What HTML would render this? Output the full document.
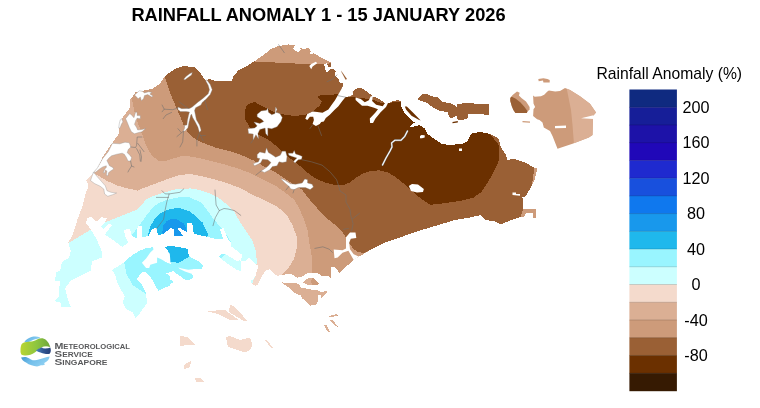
<!DOCTYPE html>
<html><head><meta charset="utf-8"><title>Rainfall Anomaly</title>
<style>
html,body{margin:0;padding:0;background:#fff;}
body{width:760px;height:408px;overflow:hidden;position:relative;font-family:"Liberation Sans",sans-serif;}
svg{position:absolute;left:0;top:0;will-change:transform;}
text{font-family:"Liberation Sans",sans-serif;}
</style></head><body>
<svg width="760" height="408" viewBox="0 0 760 408">
<rect width="760" height="408" fill="#fff"/>

<defs><clipPath id="land">
<polygon points="60.4,270.0 62.0,262.0 69.0,257.6 70.7,251.0 68.3,242.5 72.7,235.0 77.5,219.4 82.3,206.7 85.5,194.0 88.7,186.0 86.3,180.4 92.5,173.8 97.5,167.5 102.5,157.5 110.0,146.0 118.8,133.8 120.0,122.5 122.5,117.5 130.0,107.5 130.0,100.0 133.8,95.0 135.0,92.5 152.5,88.8 160.0,83.8 165.0,76.0 175.0,68.8 183.8,66.0 195.0,67.5 201.0,73.8 205.0,80.0 210.0,79.0 215.0,81.0 231.7,81.0 233.3,76.2 238.9,69.9 246.9,65.9 254.8,61.1 262.8,55.5 270.8,49.2 278.7,46.0 288.3,44.4 294.7,45.2 293.1,49.2 297.9,52.3 301.1,50.0 298.7,47.6 304.2,49.2 309.0,47.6 310.6,51.5 309.8,54.7 313.8,53.1 320.2,57.1 329.7,61.9 331.1,62.5 331.1,66.8 328.4,66.8 326.5,63.3 324.3,64.6 325.1,68.8 327.1,72.7 329.8,69.4 333.7,68.9 335.7,71.1 335.1,75.7 338.4,78.4 339.7,82.3 343.0,83.7 342.3,88.3 339.7,94.0 337.7,95.6 345.6,96.9 350.3,96.2 352.9,94.3 352.2,91.6 356.9,88.3 362.2,88.3 371.4,94.9 372.5,97.0 376.7,97.6 382.7,101.5 385.0,104.0 389.0,103.2 392.9,101.2 398.2,99.9 400.9,101.2 401.5,107.2 404.8,113.8 410.8,119.8 414.8,122.4 410.8,125.7 409.5,127.7 419.4,125.0 424.7,128.4 427.3,133.7 435.3,139.6 441.9,144.0 450.0,145.0 462.5,143.8 467.5,141.0 471.0,133.8 480.0,132.0 490.0,133.8 498.8,138.8 501.0,147.5 506.0,155.0 507.5,160.0 513.8,158.8 525.0,162.5 533.8,167.5 537.5,168.8 534.5,180.0 530.0,188.8 526.0,196.0 522.5,197.5 523.0,208.8 536.0,209.5 536.0,217.5 533.0,217.5 533.0,212.5 526.0,213.0 523.8,217.5 520.0,217.0 511.0,220.0 501.0,224.5 493.8,221.0 485.0,220.0 481.0,215.0 470.0,217.5 455.0,220.0 440.0,224.5 430.0,227.5 415.0,232.0 400.0,237.5 385.0,242.5 372.0,248.8 365.6,252.7 359.2,256.7 353.7,259.9 339.3,272.7 335.0,267.2 330.6,267.2 330.6,277.7 328.4,276.0 321.8,276.0 317.4,272.7 308.6,272.7 300.9,277.1 297.0,277.7 294.8,276.0 290.9,273.8 285.4,273.8 283.8,275.5 280.5,274.9 277.7,276.6 270.0,269.4 266.0,270.0 261.6,276.7 256.0,286.2 250.4,282.2 255.2,276.7 258.4,266.3 248.8,257.5 245.6,261.5 240.8,260.7 242.4,255.1 231.3,246.4 231.3,242.5 228.0,239.3 223.3,228.0 220.0,229.0 223.3,239.3 217.0,239.3 207.4,236.9 193.8,233.7 192.2,222.5 187.5,223.3 186.7,232.0 178.7,227.3 177.9,229.0 183.5,236.0 173.9,236.0 173.9,229.0 170.7,228.0 163.5,233.7 158.0,235.3 156.4,228.0 152.0,229.0 148.8,236.0 142.4,237.0 141.6,225.7 137.6,226.5 136.8,238.5 132.0,236.0 129.7,229.0 124.0,229.7 125.0,236.0 128.0,242.5 122.5,247.0 113.0,240.0 105.0,234.5 112.0,225.0 109.8,223.3 103.4,229.0 101.0,226.5 105.0,222.5 106.6,218.5 101.8,217.0 96.2,221.7 91.4,217.0 87.5,217.8 85.9,223.3 90.6,229.0 96.2,238.5 101.8,251.2 101.8,257.4 92.2,261.4 90.6,271.0 83.5,274.0 70.7,280.5 65.1,288.5 67.5,298.0 70.7,306.8 61.2,306.8 61.2,302.8 54.8,301.2 58.8,297.2 58.8,290.0 60.4,281.3 54.8,280.5 56.4,272.5" shape-rendering="crispEdges"/>
<polygon points="112.2,270.0 124.1,262.2 131.3,255.8 139.8,250.5 147.1,247.9 152.9,247.4 160.0,250.0 166.0,258.0 164.7,264.6 164.7,272.5 170.0,276.0 170.0,285.3 158.4,290.9 156.0,286.9 152.0,278.9 145.6,271.7 141.6,272.5 136.9,278.9 142.4,285.3 145.6,291.7 147.2,302.8 139.2,314.0 135.3,318.0 132.9,312.4 126.5,309.2 122.5,302.8 124.9,296.4 120.1,288.5 117.7,283.7 115.3,275.7" shape-rendering="crispEdges"/>
<polygon points="150.0,248.0 152.4,247.2 156.4,252.8 159.6,255.1 162.7,260.7 170.7,263.9 167.5,249.6 165.1,247.2 169.9,245.6 184.3,248.0 187.5,248.8 189.0,255.9 191.4,257.5 197.8,260.7 203.4,265.5 201.8,268.7 193.0,269.5 192.2,273.5 193.0,278.2 186.7,280.6 181.9,277.5 173.1,271.1 165.9,273.5 165.1,275.9 173.9,282.2 158.0,290.2 154.8,283.0 150.0,276.7" shape-rendering="crispEdges"/>
<polygon points="219.2,256.6 221.3,254.0 226.1,254.5 236.6,260.8 240.3,260.3 241.4,261.9 240.8,271.1 236.0,269.5 222.9,260.3" shape-rendering="crispEdges"/>
<polygon points="281.6,282.1 284.3,283.2 296.5,283.2 299.2,284.8 300.9,287.6 307.5,288.7 312.4,289.8 317.4,290.4 319.6,291.5 324.0,291.5 327.3,290.9 326.2,293.7 322.9,297.0 321.3,298.1 320.7,295.3 318.0,295.3 317.4,304.1 310.2,305.8 307.5,303.0 302.0,298.1 300.9,295.3 297.0,294.2 292.0,290.9 288.7,287.6 285.4,285.4" shape-rendering="crispEdges"/>
<polygon points="303.1,282.6 305.3,279.9 308.6,278.2 314.1,278.2 316.9,281.0 319.1,284.3 314.1,285.4 307.5,284.8" shape-rendering="crispEdges"/>
<polygon points="251.0,280.0 260.0,280.0 257.0,285.5 253.0,285.0" shape-rendering="crispEdges"/>
<polygon points="206.0,311.0 225.0,310.0 238.8,320.0 230.0,320.0 217.5,314.0" shape-rendering="crispEdges"/>
<polygon points="230.0,305.0 234.0,306.0 247.5,321.0 244.0,321.0 229.0,312.0" shape-rendering="crispEdges"/>
<polygon points="180.0,336.0 187.0,337.0 195.0,345.0 188.0,345.0 180.0,346.0" shape-rendering="crispEdges"/>
<polygon points="226.0,337.0 230.0,336.0 240.0,340.0 250.0,337.5 252.5,345.0 250.0,350.0 245.0,352.5 235.0,349.0 228.0,347.0" shape-rendering="crispEdges"/>
<polygon points="265.0,340.0 267.0,340.0 273.0,348.0 271.0,348.0" shape-rendering="crispEdges"/>
<polygon points="183.8,365.0 191.0,361.0 190.0,367.0 184.0,369.0" shape-rendering="crispEdges"/>
<polygon points="195.0,377.5 200.0,378.0 205.0,382.0 196.0,382.0" shape-rendering="crispEdges"/>
<polygon points="323.8,325.0 326.0,324.5 330.0,332.5 328.0,332.0" shape-rendering="crispEdges"/>
<polygon points="330.0,320.0 333.0,320.0 338.0,327.0 335.0,326.0" shape-rendering="crispEdges"/>
<polygon points="329.0,316.0 337.0,314.0 338.0,315.5 330.0,317.5" shape-rendering="crispEdges"/>
</clipPath>
<clipPath id="tek"><polygon points="533.1,95.5 534.7,96.7 541.0,96.3 544.2,94.7 547.4,91.6 548.9,90.4 555.2,91.6 560.0,91.0 565.0,88.0 570.0,90.0 580.0,96.2 590.0,103.8 596.0,112.5 593.0,116.0 592.5,135.0 588.8,137.5 572.5,143.8 557.5,148.8 552.5,136.0 550.0,131.0 543.8,127.5 542.5,122.5 539.5,120.0 537.1,119.2 533.1,116.0 533.5,109.3 535.1,107.0 533.5,103.4"/></clipPath>
<clipPath id="ket"><polygon points="510.3,97.9 512.6,95.1 517.0,91.6 519.7,92.8 518.9,95.5 521.7,98.3 526.0,101.4 528.0,104.6 529.6,107.0 529.6,109.7 527.6,111.3 526.8,112.9 515.4,112.9 513.4,110.1 511.8,106.2 510.3,101.0"/></clipPath>
</defs>
<g shape-rendering="crispEdges">
<rect x="40" y="35" width="520" height="360" fill="#CD9B7A"/>
<polygon points="165.0,60.0 165.0,77.5 171.0,95.0 175.0,104.6 179.8,115.7 183.7,125.3 188.5,133.2 194.9,138.8 202.9,142.8 215.6,147.6 228.4,150.8 241.0,154.9 253.7,160.5 264.9,166.9 276.0,172.5 288.8,181.2 301.6,189.2 306.1,195.0 311.7,202.2 319.7,210.9 327.6,218.9 335.6,225.3 342.0,231.7 345.2,236.4 349.0,243.0 353.0,248.5 358.0,252.0 364.0,253.0 370.0,250.0 380.0,265.0 520.0,232.0 521.0,215.0 531.0,190.0 535.0,165.0 535.0,140.0 529.0,112.0 522.0,100.0 512.0,88.0 480.0,60.0 340.0,55.0 332.0,63.0 325.0,64.0 318.6,64.3 309.0,64.3 294.7,63.5 278.7,62.7 262.8,61.9 254.8,61.6 248.0,58.0 240.0,55.0" fill="#9A6035"/>
<polygon points="244.7,112.0 246.3,106.5 250.3,102.8 255.0,102.2 263.0,106.5 272.6,111.3 283.7,114.5 295.0,116.0 306.0,114.5 314.0,110.5 319.6,105.7 322.0,101.0 318.8,98.5 318.0,96.2 322.0,95.0 331.5,94.9 338.7,93.8 346.0,96.0 353.0,97.3 362.0,98.0 372.0,99.5 380.0,102.5 390.0,102.8 398.0,101.8 404.0,103.0 410.0,104.0 425.0,115.0 440.0,128.0 455.0,135.0 470.0,126.0 488.0,126.0 490.0,134.0 498.8,145.0 499.5,157.5 497.2,165.0 493.2,173.0 487.6,182.5 481.3,192.1 473.3,197.7 460.6,200.9 444.6,203.2 430.3,204.8 420.7,198.5 409.6,188.9 403.6,183.5 395.6,177.1 387.6,172.3 379.7,170.4 371.7,170.7 363.7,173.1 355.8,177.9 349.4,182.7 343.0,185.1 335.1,185.1 325.5,182.7 315.9,178.7 308.0,173.1 300.0,165.9 295.0,162.0 289.0,157.5 282.0,151.0 275.0,145.0 268.0,139.5 258.2,134.4 250.3,128.0 245.5,120.0" fill="#6B3000"/>
<polygon points="40.0,95.0 128.0,95.0 132.0,99.8 134.3,110.9 137.5,122.1 142.3,134.8 146.3,146.0 151.9,155.6 158.0,160.5 165.0,161.0 172.6,158.7 180.6,156.4 190.0,156.5 199.6,158.1 212.3,161.3 225.1,164.5 237.8,168.5 250.6,173.2 263.3,179.6 276.0,186.0 287.8,194.5 294.2,199.8 299.0,207.7 303.7,218.9 307.7,230.1 309.3,242.8 310.6,250.0 311.8,256.0 312.2,271.9 311.3,283.0 313.0,286.5 320.0,287.5 330.0,289.0 336.0,300.0 340.0,400.0 40.0,400.0" fill="#DBAF94"/>
<polygon points="40.0,172.0 92.0,172.0 96.7,174.8 106.2,180.4 115.8,185.0 127.0,188.3 138.0,190.7 142.9,188.3 155.6,183.5 168.4,178.8 180.0,175.0 190.0,174.0 202.7,176.4 215.5,179.6 228.2,183.6 241.0,188.4 252.0,194.5 263.9,199.8 276.7,206.2 286.2,214.1 292.6,225.3 296.6,236.4 297.4,246.0 296.3,249.6 293.9,259.1 289.1,267.1 284.3,272.7 279.4,276.0 272.0,283.0 268.0,300.0 275.0,330.0 280.0,400.0 40.0,400.0" fill="#F4DACC"/>
<polygon points="40.0,243.0 68.3,243.0 78.7,236.9 91.9,229.0 105.5,222.1 116.1,217.9 126.6,213.7 137.1,209.5 142.4,204.2 145.6,200.0 150.8,197.0 162.0,193.0 175.0,189.5 190.0,188.4 199.6,190.0 209.1,193.2 218.7,198.0 225.0,203.0 235.0,213.0 240.0,222.1 246.4,231.7 252.7,241.2 255.9,250.8 256.7,260.0 256.0,275.0 250.0,288.0 235.0,297.0 205.0,302.0 175.0,308.0 150.0,325.0 40.0,330.0" fill="#CCFFFF"/>
<polygon points="131.9,234.8 137.1,228.5 142.4,221.1 147.7,213.7 153.0,207.4 158.2,203.2 166.7,200.0 180.0,197.0 190.0,197.5 202.0,203.0 213.7,219.3 225.0,232.0 231.3,242.5 228.0,252.0 220.0,259.0 202.6,266.4 195.0,285.0 170.0,300.0 150.0,296.0 144.8,293.2 132.9,285.3 126.5,274.1 124.1,262.2 124.5,255.0 127.0,245.0" fill="#99F5FF"/>
<polygon points="148.2,234.8 149.8,227.4 154.0,220.0 159.3,213.7 166.7,210.0 175.0,208.4 180.0,208.2 190.0,211.4 202.6,222.5 208.0,234.5 205.0,246.0 198.0,254.0 190.0,256.0 178.7,263.0 166.0,260.8 159.5,256.0 152.0,246.0" fill="#1FB8EC"/>
<polygon points="162.4,231.6 163.5,225.3 166.7,221.1 170.9,219.0 177.0,219.3 184.3,224.0 186.7,230.5 186.0,240.0 178.0,246.0 168.0,246.0 163.0,240.0" fill="#1898EC"/>
<mask id="sea" maskUnits="userSpaceOnUse" x="0" y="0" width="760" height="408"><rect width="760" height="408" fill="#fff"/>
<polygon points="60.4,270.0 62.0,262.0 69.0,257.6 70.7,251.0 68.3,242.5 72.7,235.0 77.5,219.4 82.3,206.7 85.5,194.0 88.7,186.0 86.3,180.4 92.5,173.8 97.5,167.5 102.5,157.5 110.0,146.0 118.8,133.8 120.0,122.5 122.5,117.5 130.0,107.5 130.0,100.0 133.8,95.0 135.0,92.5 152.5,88.8 160.0,83.8 165.0,76.0 175.0,68.8 183.8,66.0 195.0,67.5 201.0,73.8 205.0,80.0 210.0,79.0 215.0,81.0 231.7,81.0 233.3,76.2 238.9,69.9 246.9,65.9 254.8,61.1 262.8,55.5 270.8,49.2 278.7,46.0 288.3,44.4 294.7,45.2 293.1,49.2 297.9,52.3 301.1,50.0 298.7,47.6 304.2,49.2 309.0,47.6 310.6,51.5 309.8,54.7 313.8,53.1 320.2,57.1 329.7,61.9 331.1,62.5 331.1,66.8 328.4,66.8 326.5,63.3 324.3,64.6 325.1,68.8 327.1,72.7 329.8,69.4 333.7,68.9 335.7,71.1 335.1,75.7 338.4,78.4 339.7,82.3 343.0,83.7 342.3,88.3 339.7,94.0 337.7,95.6 345.6,96.9 350.3,96.2 352.9,94.3 352.2,91.6 356.9,88.3 362.2,88.3 371.4,94.9 372.5,97.0 376.7,97.6 382.7,101.5 385.0,104.0 389.0,103.2 392.9,101.2 398.2,99.9 400.9,101.2 401.5,107.2 404.8,113.8 410.8,119.8 414.8,122.4 410.8,125.7 409.5,127.7 419.4,125.0 424.7,128.4 427.3,133.7 435.3,139.6 441.9,144.0 450.0,145.0 462.5,143.8 467.5,141.0 471.0,133.8 480.0,132.0 490.0,133.8 498.8,138.8 501.0,147.5 506.0,155.0 507.5,160.0 513.8,158.8 525.0,162.5 533.8,167.5 537.5,168.8 534.5,180.0 530.0,188.8 526.0,196.0 522.5,197.5 523.0,208.8 536.0,209.5 536.0,217.5 533.0,217.5 533.0,212.5 526.0,213.0 523.8,217.5 520.0,217.0 511.0,220.0 501.0,224.5 493.8,221.0 485.0,220.0 481.0,215.0 470.0,217.5 455.0,220.0 440.0,224.5 430.0,227.5 415.0,232.0 400.0,237.5 385.0,242.5 372.0,248.8 365.6,252.7 359.2,256.7 353.7,259.9 339.3,272.7 335.0,267.2 330.6,267.2 330.6,277.7 328.4,276.0 321.8,276.0 317.4,272.7 308.6,272.7 300.9,277.1 297.0,277.7 294.8,276.0 290.9,273.8 285.4,273.8 283.8,275.5 280.5,274.9 277.7,276.6 270.0,269.4 266.0,270.0 261.6,276.7 256.0,286.2 250.4,282.2 255.2,276.7 258.4,266.3 248.8,257.5 245.6,261.5 240.8,260.7 242.4,255.1 231.3,246.4 231.3,242.5 228.0,239.3 223.3,228.0 220.0,229.0 223.3,239.3 217.0,239.3 207.4,236.9 193.8,233.7 192.2,222.5 187.5,223.3 186.7,232.0 178.7,227.3 177.9,229.0 183.5,236.0 173.9,236.0 173.9,229.0 170.7,228.0 163.5,233.7 158.0,235.3 156.4,228.0 152.0,229.0 148.8,236.0 142.4,237.0 141.6,225.7 137.6,226.5 136.8,238.5 132.0,236.0 129.7,229.0 124.0,229.7 125.0,236.0 128.0,242.5 122.5,247.0 113.0,240.0 105.0,234.5 112.0,225.0 109.8,223.3 103.4,229.0 101.0,226.5 105.0,222.5 106.6,218.5 101.8,217.0 96.2,221.7 91.4,217.0 87.5,217.8 85.9,223.3 90.6,229.0 96.2,238.5 101.8,251.2 101.8,257.4 92.2,261.4 90.6,271.0 83.5,274.0 70.7,280.5 65.1,288.5 67.5,298.0 70.7,306.8 61.2,306.8 61.2,302.8 54.8,301.2 58.8,297.2 58.8,290.0 60.4,281.3 54.8,280.5 56.4,272.5" fill="#000" shape-rendering="crispEdges"/>
<polygon points="112.2,270.0 124.1,262.2 131.3,255.8 139.8,250.5 147.1,247.9 152.9,247.4 160.0,250.0 166.0,258.0 164.7,264.6 164.7,272.5 170.0,276.0 170.0,285.3 158.4,290.9 156.0,286.9 152.0,278.9 145.6,271.7 141.6,272.5 136.9,278.9 142.4,285.3 145.6,291.7 147.2,302.8 139.2,314.0 135.3,318.0 132.9,312.4 126.5,309.2 122.5,302.8 124.9,296.4 120.1,288.5 117.7,283.7 115.3,275.7" fill="#000" shape-rendering="crispEdges"/>
<polygon points="150.0,248.0 152.4,247.2 156.4,252.8 159.6,255.1 162.7,260.7 170.7,263.9 167.5,249.6 165.1,247.2 169.9,245.6 184.3,248.0 187.5,248.8 189.0,255.9 191.4,257.5 197.8,260.7 203.4,265.5 201.8,268.7 193.0,269.5 192.2,273.5 193.0,278.2 186.7,280.6 181.9,277.5 173.1,271.1 165.9,273.5 165.1,275.9 173.9,282.2 158.0,290.2 154.8,283.0 150.0,276.7" fill="#000" shape-rendering="crispEdges"/>
<polygon points="219.2,256.6 221.3,254.0 226.1,254.5 236.6,260.8 240.3,260.3 241.4,261.9 240.8,271.1 236.0,269.5 222.9,260.3" fill="#000" shape-rendering="crispEdges"/>
<polygon points="281.6,282.1 284.3,283.2 296.5,283.2 299.2,284.8 300.9,287.6 307.5,288.7 312.4,289.8 317.4,290.4 319.6,291.5 324.0,291.5 327.3,290.9 326.2,293.7 322.9,297.0 321.3,298.1 320.7,295.3 318.0,295.3 317.4,304.1 310.2,305.8 307.5,303.0 302.0,298.1 300.9,295.3 297.0,294.2 292.0,290.9 288.7,287.6 285.4,285.4" fill="#000" shape-rendering="crispEdges"/>
<polygon points="303.1,282.6 305.3,279.9 308.6,278.2 314.1,278.2 316.9,281.0 319.1,284.3 314.1,285.4 307.5,284.8" fill="#000" shape-rendering="crispEdges"/>
<polygon points="251.0,280.0 260.0,280.0 257.0,285.5 253.0,285.0" fill="#000" shape-rendering="crispEdges"/>
<polygon points="206.0,311.0 225.0,310.0 238.8,320.0 230.0,320.0 217.5,314.0" fill="#000" shape-rendering="crispEdges"/>
<polygon points="230.0,305.0 234.0,306.0 247.5,321.0 244.0,321.0 229.0,312.0" fill="#000" shape-rendering="crispEdges"/>
<polygon points="180.0,336.0 187.0,337.0 195.0,345.0 188.0,345.0 180.0,346.0" fill="#000" shape-rendering="crispEdges"/>
<polygon points="226.0,337.0 230.0,336.0 240.0,340.0 250.0,337.5 252.5,345.0 250.0,350.0 245.0,352.5 235.0,349.0 228.0,347.0" fill="#000" shape-rendering="crispEdges"/>
<polygon points="265.0,340.0 267.0,340.0 273.0,348.0 271.0,348.0" fill="#000" shape-rendering="crispEdges"/>
<polygon points="183.8,365.0 191.0,361.0 190.0,367.0 184.0,369.0" fill="#000" shape-rendering="crispEdges"/>
<polygon points="195.0,377.5 200.0,378.0 205.0,382.0 196.0,382.0" fill="#000" shape-rendering="crispEdges"/>
<polygon points="323.8,325.0 326.0,324.5 330.0,332.5 328.0,332.0" fill="#000" shape-rendering="crispEdges"/>
<polygon points="330.0,320.0 333.0,320.0 338.0,327.0 335.0,326.0" fill="#000" shape-rendering="crispEdges"/>
<polygon points="329.0,316.0 337.0,314.0 338.0,315.5 330.0,317.5" fill="#000" shape-rendering="crispEdges"/>
</mask>
<rect width="760" height="408" fill="#fff" mask="url(#sea)"/>
</g>
<polygon points="418.0,98.6 421.4,94.6 427.3,93.7 430.6,96.0 437.9,97.3 441.9,101.9 449.8,103.2 454.4,105.2 457.0,107.5 457.5,104.2 467.0,102.6 477.6,103.9 488.8,103.8 488.8,115.0 476.3,113.8 468.3,114.5 467.7,118.4 463.0,119.8 457.8,120.4 457.1,115.8 451.1,118.4 449.2,117.1 447.8,111.8 440.6,111.2 434.6,108.5 430.6,105.9 426.7,102.6 418.0,99.9" fill="#9A6035" shape-rendering="crispEdges"/>
<g clip-path="url(#ket)"><rect x="500" y="80" width="40" height="40" fill="#CD9B7A"/><polygon points="505,96.5 511.8,96.7 515.8,98.7 520.5,102.6 524.5,107 527.6,111.3 529,116 505,118" fill="#9A6035"/></g>
<g clip-path="url(#tek)"><rect x="520" y="70" width="100" height="100" fill="#CD9B7A"/><polygon points="565.0,80.0 568.0,95.0 571.0,110.0 572.5,125.0 573.8,142.0 575.0,160.0 620.0,160.0 620.0,80.0" fill="#DBAF94"/></g>
<polygon points="538.3,78.9 543.4,78.2 547.4,78.9 549.7,80.1 549.7,82.5 543.4,82.5 543.0,80.5 538.7,81.3" fill="#CD9B7A"/>
<polygon points="522.5,121.0 530.0,121.5 530.0,122.8 522.5,122.3" fill="#CD9B7A"/>
<polygon points="404.8,106.5 406.8,106.5 413.4,113.1 420.7,120.4 418.7,119.8 411.5,115.8 406.2,109.8" fill="#6B3000"/>
<polygon points="341.0,70.4 347.0,79.0 345.6,79.7 341.7,72.4" fill="#9A6035"/>
<polygon points="452.5,122.0 457.8,121.0 457.8,122.5 452.5,123.3" fill="#6B3000"/>
<polygon points="350.0,232.5 355.5,232.5 356.3,238.0 350.8,238.8 349.2,242.8 350.0,249.2 353.7,254.3 359.2,256.7 353.7,259.9 348.4,250.8 342.5,252.7 337.7,257.5 334.5,258.3 333.7,249.6 342.5,250.2 346.0,248.4 346.0,237.2" fill="#fff"/>
<polygon points="343.7,85.0 352.9,91.0 352.9,94.3 350.3,96.2 345.6,96.9 342.3,100.9 338.4,106.2 334.4,110.1 329.8,114.8 325.8,118.1 323.8,121.4 321.2,122.0 319.8,124.0 315.9,126.0 312.6,124.0 313.9,120.1 313.2,116.7 309.9,116.7 307.3,120.1 305.3,118.7 307.3,114.1 312.6,111.5 317.2,112.1 322.5,112.8 328.4,109.5 331.7,104.8 335.0,100.2 337.7,95.6 340.3,91.0" fill="#fff"/>
<polygon points="355.6,97.6 360.8,98.9 364.8,102.2 368.8,100.2 370.8,96.2 372.8,96.2 372.1,100.9 376.1,104.8 382.7,106.2 384.7,103.5 387.3,100.9 391.3,100.2 391.0,102.0 388.0,103.0 386.0,107.0 380.6,112.2 375.3,118.8 373.0,123.0 370.1,123.0 369.8,118.5 375.0,113.0 378.0,109.3 374.1,107.8 367.5,105.8 362.0,105.8 358.3,102.5 355.6,99.9" fill="#fff"/>
<polygon points="309.3,66.1 311.2,69.2 312.6,66.6 317.2,63.3 315.9,61.7 311.2,64.1" fill="#fff"/>
<polygon points="555.0,126.0 566.0,125.5 566.0,128.0 555.0,128.3" fill="#fff"/>
<polygon points="593.5,115.3 581.0,118.2 593.5,118.9" fill="#fff"/>
<polygon points="420.0,136.0 421.5,135.0 424.7,135.2 424.7,137.5 422.0,138.3 420.0,138.3" fill="#fff"/>
<polygon points="459.0,148.5 462.0,148.5 462.0,151.0 459.0,151.0" fill="#fff"/>
<polygon points="512.5,192.5 516.0,192.5 516.0,194.0 520.0,194.0 520.0,195.8 512.5,195.0" fill="#fff"/>
<polygon points="193.0,269.3 188.2,269.8 181.9,268.5 178.2,267.4 179.8,269.0 185.0,271.6 193.0,274.2" fill="#fff"/>
<polygon points="152.9,247.2 165.0,247.7 167.1,250.5 169.8,253.7 170.3,260.0 170.5,263.9 165.0,261.6 160.8,259.0 157.1,257.4 157.1,262.7 150.3,264.8 149.2,267.9 146.1,267.9 141.9,262.7 146.1,258.4 150.3,252.6 153.5,249.5" fill="#fff"/>
<polygon points="408.8,186.0 412.0,184.0 418.0,184.5 423.8,189.0 423.0,192.0 417.0,192.5 411.0,191.0" fill="#fff"/>
<polygon points="206.9,79.9 210.2,84.6 212.2,89.8 210.2,94.5 206.2,99.1 202.2,102.4 200.9,105.0 195.6,107.7 194.5,110.5 196.4,119.8 199.5,125.0 201.1,130.3 199.5,132.4 197.9,127.1 195.3,121.9 192.7,117.6 191.5,114.0 190.6,115.5 189.0,121.9 187.9,127.7 185.3,130.8 183.2,131.3 184.8,127.7 184.2,125.5 186.9,125.0 187.4,120.8 188.5,115.5 189.5,112.0 186.0,111.5 180.4,111.5 177.9,109.5 177.9,107.1 181.7,108.7 189.7,108.5 192.3,107.0 197.6,102.4 202.9,98.4 208.2,93.8 209.5,89.8 208.2,85.2 205.6,80.6" fill="#fff" stroke="#8a8a8a" stroke-width="0.35" stroke-linejoin="round"/>
<polygon points="183.7,79.3 186.0,76.5 190.0,73.5 192.3,72.6 191.5,75.0 188.0,77.5 185.0,79.8" fill="#fff" stroke="#8a8a8a" stroke-width="0.35" stroke-linejoin="round"/>
<polygon points="134.5,95.0 139.3,90.8 142.4,91.3 144.5,92.9 148.7,91.8 151.9,92.4 149.8,94.0 153.0,96.0 151.9,97.0 147.7,94.5 144.5,95.5 143.5,98.7 141.4,100.8 140.3,97.0 138.2,98.7 136.1,96.6" fill="#fff" stroke="#8a8a8a" stroke-width="0.35" stroke-linejoin="round"/>
<polygon points="125.6,118.7 129.8,113.5 131.9,115.6 134.0,117.7 135.6,111.9 137.1,112.4 137.1,115.6 140.3,115.6 140.3,118.7 137.1,118.2 135.6,120.8 135.6,121.2 134.5,124.3 136.6,127.5 137.7,130.0 141.9,129.6 145.6,128.5 141.9,131.7 137.7,132.8 134.5,133.8 131.4,131.7 129.3,127.5 127.2,122.2" fill="#fff" stroke="#8a8a8a" stroke-width="0.35" stroke-linejoin="round"/>
<polygon points="120.3,119.8 121.9,118.7 122.9,121.9 121.5,124.0 120.0,128.0 118.7,128.0 119.4,123.0" fill="#fff" stroke="#8a8a8a" stroke-width="0.35" stroke-linejoin="round"/>
<polygon points="112.4,143.3 119.8,143.8 125.0,142.2 129.3,142.8 130.8,147.0 128.2,149.6 127.2,152.8 129.0,154.2 131.6,157.4 130.6,161.0 128.0,161.0 126.4,157.4 124.3,154.2 122.1,153.2 116.9,154.2 111.6,155.8 109.0,157.9 106.9,160.5 109.5,165.8 112.7,167.4 113.7,169.0 110.6,171.0 108.5,172.7 107.9,175.8 106.3,175.3 106.9,171.0 105.3,170.0 104.8,172.7 103.2,172.7 104.8,169.0 106.3,167.4 106.3,165.8 102.7,166.9 99.5,169.0 95.8,172.0 93.2,172.7 97.4,167.9 102.7,158.4 108.2,151.7" fill="#fff" stroke="#8a8a8a" stroke-width="0.35" stroke-linejoin="round"/>
<polygon points="93.2,172.7 94.8,173.7 96.9,176.3 101.6,181.6 105.3,185.8 107.0,190.7 111.0,192.3 116.6,193.0 112.6,194.7 107.8,196.3 104.6,194.0 103.8,189.0 99.8,186.0 94.8,183.7 90.5,180.6" fill="#fff" stroke="#8a8a8a" stroke-width="0.35" stroke-linejoin="round"/>
<polygon points="275.7,112.2 279.7,113.5 282.3,117.5 281.0,121.5 277.0,126.7 271.7,128.7 267.8,128.0 267.8,136.0 265.8,133.4 265.1,128.0 259.8,129.4 257.9,133.4 258.5,138.7 255.9,134.7 253.2,140.0 253.2,134.0 248.6,133.4 247.9,128.7 254.6,128.0 257.2,126.0 253.9,122.0 259.8,123.4 263.8,121.5 261.8,119.5 257.2,116.8 257.2,114.2 261.2,110.9 266.5,110.2 267.8,108.2 268.4,112.2 271.7,114.8 275.0,113.5 275.7,107.0 277.0,109.6" fill="#fff" stroke="#8a8a8a" stroke-width="0.35" stroke-linejoin="round"/>
<polygon points="257.2,154.6 259.8,151.9 265.1,153.2 266.5,147.9 268.4,152.6 271.7,154.6 275.7,157.2 280.3,155.2 282.3,151.2 285.6,151.2 287.0,156.5 286.3,161.8 282.3,162.5 279.0,161.8 277.0,165.8 272.4,166.5 269.8,169.8 264.5,172.4 261.2,171.0 265.1,168.4 268.4,165.8 271.0,162.5 267.8,159.8 262.5,159.2 260.5,163.1 254.6,165.8 253.2,163.8 258.5,161.8 259.8,158.5 257.2,157.9" fill="#fff" stroke="#8a8a8a" stroke-width="0.35" stroke-linejoin="round"/>
<polygon points="288.3,153.2 292.9,153.2 294.2,150.6 295.6,153.9 299.5,155.2 302.2,156.5 301.5,159.2 298.2,159.8 294.9,163.1 293.6,161.2 296.9,157.9 292.2,156.5 288.9,155.2" fill="#fff" stroke="#8a8a8a" stroke-width="0.35" stroke-linejoin="round"/>
<polygon points="281.0,178.4 285.0,180.3 290.3,183.7 295.6,184.3 302.2,183.0 304.8,179.0 307.5,179.7 307.5,183.0 312.1,184.3 313.4,187.0 310.1,189.6 305.5,187.6 298.2,187.6 294.2,189.6 290.9,188.9 288.9,186.3 285.0,183.0 281.7,179.7" fill="#fff" stroke="#8a8a8a" stroke-width="0.35" stroke-linejoin="round"/>
<polyline points="337.7,95.6 345.6,97.2" fill="none" stroke="#6e6e6e" stroke-width="0.55" stroke-linecap="round" stroke-linejoin="round"/>
<polyline points="327.1,81.7 332.0,79.5 337.0,75.0" fill="none" stroke="#6e6e6e" stroke-width="0.55" stroke-linecap="round" stroke-linejoin="round"/>
<polyline points="204.9,100.4 207.5,109.7" fill="none" stroke="#6e6e6e" stroke-width="0.55" stroke-linecap="round" stroke-linejoin="round"/>
<polyline points="179.0,101.7 184.0,105.5 188.4,108.4" fill="none" stroke="#6e6e6e" stroke-width="0.55" stroke-linecap="round" stroke-linejoin="round"/>
<polyline points="177.9,108.0 172.6,109.7 164.2,109.2 162.1,105.0" fill="none" stroke="#6e6e6e" stroke-width="0.55" stroke-linecap="round" stroke-linejoin="round"/>
<polyline points="164.2,109.2 162.1,111.8" fill="none" stroke="#6e6e6e" stroke-width="0.55" stroke-linecap="round" stroke-linejoin="round"/>
<polyline points="171.6,112.4 166.0,115.0 163.2,118.7" fill="none" stroke="#6e6e6e" stroke-width="0.55" stroke-linecap="round" stroke-linejoin="round"/>
<polyline points="183.2,131.3 176.9,136.6" fill="none" stroke="#6e6e6e" stroke-width="0.55" stroke-linecap="round" stroke-linejoin="round"/>
<polyline points="183.5,131.5 182.7,141.9 180.0,147.0" fill="none" stroke="#6e6e6e" stroke-width="0.55" stroke-linecap="round" stroke-linejoin="round"/>
<polyline points="181.1,132.4 177.9,128.7" fill="none" stroke="#6e6e6e" stroke-width="0.55" stroke-linecap="round" stroke-linejoin="round"/>
<polyline points="199.5,132.4 196.9,139.8 196.9,146.0" fill="none" stroke="#6e6e6e" stroke-width="0.55" stroke-linecap="round" stroke-linejoin="round"/>
<polyline points="200.0,134.5 203.2,140.8" fill="none" stroke="#6e6e6e" stroke-width="0.55" stroke-linecap="round" stroke-linejoin="round"/>
<polyline points="200.6,135.6 205.3,135.6" fill="none" stroke="#6e6e6e" stroke-width="0.55" stroke-linecap="round" stroke-linejoin="round"/>
<polyline points="130.8,147.0 135.6,147.5 136.6,145.4 137.2,137.0 141.9,137.0" fill="none" stroke="#6e6e6e" stroke-width="0.55" stroke-linecap="round" stroke-linejoin="round"/>
<polyline points="137.7,143.3 144.0,151.7" fill="none" stroke="#6e6e6e" stroke-width="0.55" stroke-linecap="round" stroke-linejoin="round"/>
<polyline points="136.6,148.6 139.8,154.9 140.3,161.0" fill="none" stroke="#6e6e6e" stroke-width="0.55" stroke-linecap="round" stroke-linejoin="round"/>
<polyline points="130.6,161.0 131.6,166.0 129.0,170.0 128.0,172.0" fill="none" stroke="#6e6e6e" stroke-width="0.55" stroke-linecap="round" stroke-linejoin="round"/>
<polyline points="131.6,166.0 134.0,167.0" fill="none" stroke="#6e6e6e" stroke-width="0.55" stroke-linecap="round" stroke-linejoin="round"/>
<polyline points="140.0,150.0 141.5,157.0 141.0,161.5" fill="none" stroke="#6e6e6e" stroke-width="0.55" stroke-linecap="round" stroke-linejoin="round"/>
<polyline points="162.0,190.7 165.2,193.9 169.2,193.9 166.8,201.9 165.2,209.8 163.6,219.4 158.8,225.8 156.4,229.0" fill="none" stroke="#6e6e6e" stroke-width="0.55" stroke-linecap="round" stroke-linejoin="round"/>
<polyline points="156.4,197.4 168.4,197.4" fill="none" stroke="#6e6e6e" stroke-width="0.55" stroke-linecap="round" stroke-linejoin="round"/>
<polyline points="169.2,193.9 180.0,192.3 183.8,188.8" fill="none" stroke="#6e6e6e" stroke-width="0.55" stroke-linecap="round" stroke-linejoin="round"/>
<polyline points="215.0,190.0 216.1,205.0 219.3,210.6 215.3,217.7 213.0,225.7" fill="none" stroke="#6e6e6e" stroke-width="0.55" stroke-linecap="round" stroke-linejoin="round"/>
<polyline points="219.3,210.6 224.0,208.5 228.0,209.0 234.5,210.6 240.8,215.4" fill="none" stroke="#6e6e6e" stroke-width="0.55" stroke-linecap="round" stroke-linejoin="round"/>
<polyline points="302.2,159.8 311.4,161.8 322.0,165.1 329.9,171.7 336.6,179.7 339.2,187.6 340.0,191.0 346.0,195.0 346.0,202.2 350.0,209.3 350.8,215.7 353.1,223.7 351.6,230.9" fill="none" stroke="#6e6e6e" stroke-width="0.55" stroke-linecap="round" stroke-linejoin="round"/>
<polyline points="352.4,218.9 359.5,213.3" fill="none" stroke="#6e6e6e" stroke-width="0.55" stroke-linecap="round" stroke-linejoin="round"/>
<polyline points="343.6,229.3 348.4,228.5" fill="none" stroke="#6e6e6e" stroke-width="0.55" stroke-linecap="round" stroke-linejoin="round"/>
<polyline points="314.9,248.4 322.9,246.8 329.2,249.2 332.4,252.4" fill="none" stroke="#6e6e6e" stroke-width="0.55" stroke-linecap="round" stroke-linejoin="round"/>
<polyline points="312.5,125.0 310.0,128.5" fill="none" stroke="#6e6e6e" stroke-width="0.55" stroke-linecap="round" stroke-linejoin="round"/>
<polyline points="318.0,126.0 321.5,135.5" fill="none" stroke="#6e6e6e" stroke-width="0.55" stroke-linecap="round" stroke-linejoin="round"/>
<polyline points="278.7,44.7 284.3,52.7" fill="none" stroke="#6e6e6e" stroke-width="0.55" stroke-linecap="round" stroke-linejoin="round"/>
<polyline points="253.0,140.0 251.0,143.0" fill="none" stroke="#6e6e6e" stroke-width="0.55" stroke-linecap="round" stroke-linejoin="round"/>
<polyline points="261.0,171.0 256.0,175.0" fill="none" stroke="#6e6e6e" stroke-width="0.55" stroke-linecap="round" stroke-linejoin="round"/>
<polyline points="288.9,186.3 286.0,190.0" fill="none" stroke="#6e6e6e" stroke-width="0.55" stroke-linecap="round" stroke-linejoin="round"/>
<polyline points="294.2,189.6 293.0,193.0" fill="none" stroke="#6e6e6e" stroke-width="0.55" stroke-linecap="round" stroke-linejoin="round"/>
<polyline points="407.5,131.0 404.8,136.3 400.9,140.3 394.9,140.3 391.6,142.9 392.0,147.0 390.0,151.0 386.0,158.0 382.5,165.0" fill="none" stroke="#777" stroke-width="1.9" stroke-linecap="round" stroke-linejoin="round"/>
<polyline points="407.5,131.0 404.8,136.3 400.9,140.3 394.9,140.3 391.6,142.9 392.0,147.0 390.0,151.0 386.0,158.0 382.5,165.0" fill="none" stroke="#fff" stroke-width="1.1" stroke-linecap="round" stroke-linejoin="round"/>
<rect x="629.4" y="89.50" width="47.5" height="18.03" fill="#0F2A80"/>
<rect x="629.4" y="107.23" width="47.5" height="18.03" fill="#161E98"/>
<rect x="629.4" y="124.96" width="47.5" height="18.03" fill="#1D12A8"/>
<rect x="629.4" y="142.69" width="47.5" height="18.03" fill="#2008B8"/>
<rect x="629.4" y="160.42" width="47.5" height="18.03" fill="#1F2ACF"/>
<rect x="629.4" y="178.15" width="47.5" height="18.03" fill="#1850DD"/>
<rect x="629.4" y="195.88" width="47.5" height="18.03" fill="#0F78EE"/>
<rect x="629.4" y="213.61" width="47.5" height="18.03" fill="#1898EC"/>
<rect x="629.4" y="231.34" width="47.5" height="18.03" fill="#1FB8EC"/>
<rect x="629.4" y="249.06" width="47.5" height="18.03" fill="#99F5FF"/>
<rect x="629.4" y="266.79" width="47.5" height="18.03" fill="#CCFFFF"/>
<rect x="629.4" y="284.52" width="47.5" height="18.03" fill="#F4DACC"/>
<rect x="629.4" y="302.25" width="47.5" height="18.03" fill="#DBAF94"/>
<rect x="629.4" y="319.98" width="47.5" height="18.03" fill="#CD9B7A"/>
<rect x="629.4" y="337.71" width="47.5" height="18.03" fill="#9A6035"/>
<rect x="629.4" y="355.44" width="47.5" height="18.03" fill="#6B3000"/>
<rect x="629.4" y="373.17" width="47.5" height="18.03" fill="#361A02"/>
<line x1="629.4" x2="676.9" y1="107.23" y2="107.23" stroke="#000" stroke-opacity="0.25" stroke-width="0.6"/>
<line x1="629.4" x2="676.9" y1="124.96" y2="124.96" stroke="#000" stroke-opacity="0.25" stroke-width="0.6"/>
<line x1="629.4" x2="676.9" y1="142.69" y2="142.69" stroke="#000" stroke-opacity="0.25" stroke-width="0.6"/>
<line x1="629.4" x2="676.9" y1="160.42" y2="160.42" stroke="#000" stroke-opacity="0.25" stroke-width="0.6"/>
<line x1="629.4" x2="676.9" y1="178.15" y2="178.15" stroke="#000" stroke-opacity="0.25" stroke-width="0.6"/>
<line x1="629.4" x2="676.9" y1="195.88" y2="195.88" stroke="#000" stroke-opacity="0.25" stroke-width="0.6"/>
<line x1="629.4" x2="676.9" y1="213.61" y2="213.61" stroke="#000" stroke-opacity="0.25" stroke-width="0.6"/>
<line x1="629.4" x2="676.9" y1="231.34" y2="231.34" stroke="#000" stroke-opacity="0.25" stroke-width="0.6"/>
<line x1="629.4" x2="676.9" y1="249.06" y2="249.06" stroke="#000" stroke-opacity="0.25" stroke-width="0.6"/>
<line x1="629.4" x2="676.9" y1="266.79" y2="266.79" stroke="#000" stroke-opacity="0.25" stroke-width="0.6"/>
<line x1="629.4" x2="676.9" y1="284.52" y2="284.52" stroke="#000" stroke-opacity="0.25" stroke-width="0.6"/>
<line x1="629.4" x2="676.9" y1="302.25" y2="302.25" stroke="#000" stroke-opacity="0.25" stroke-width="0.6"/>
<line x1="629.4" x2="676.9" y1="319.98" y2="319.98" stroke="#000" stroke-opacity="0.25" stroke-width="0.6"/>
<line x1="629.4" x2="676.9" y1="337.71" y2="337.71" stroke="#000" stroke-opacity="0.25" stroke-width="0.6"/>
<line x1="629.4" x2="676.9" y1="355.44" y2="355.44" stroke="#000" stroke-opacity="0.25" stroke-width="0.6"/>
<line x1="629.4" x2="676.9" y1="373.17" y2="373.17" stroke="#000" stroke-opacity="0.25" stroke-width="0.6"/>
<text x="696" y="113.03" font-size="16.2" text-anchor="middle" fill="#000">200</text>
<text x="696" y="148.49" font-size="16.2" text-anchor="middle" fill="#000">160</text>
<text x="696" y="183.95" font-size="16.2" text-anchor="middle" fill="#000">120</text>
<text x="696" y="219.41" font-size="16.2" text-anchor="middle" fill="#000">80</text>
<text x="696" y="254.86" font-size="16.2" text-anchor="middle" fill="#000">40</text>
<text x="696" y="290.32" font-size="16.2" text-anchor="middle" fill="#000">0</text>
<text x="696" y="325.78" font-size="16.2" text-anchor="middle" fill="#000">-40</text>
<text x="696" y="361.24" font-size="16.2" text-anchor="middle" fill="#000">-80</text>
<text x="669.3" y="78.6" font-size="15.7" text-anchor="middle" fill="#000">Rainfall Anomaly (%)</text>
<text x="318.5" y="21.45" font-size="18.25" font-weight="bold" text-anchor="middle" fill="#000">RAINFALL ANOMALY 1 - 15 JANUARY 2026</text>

<g id="logo">
<defs>
<linearGradient id="gg" x1="0" x2="1" y1="0" y2="0"><stop offset="0" stop-color="#B9D532"/><stop offset="0.55" stop-color="#8CC540"/><stop offset="1" stop-color="#6FA53A"/></linearGradient>
<linearGradient id="gb" x1="0" x2="1" y1="0" y2="0"><stop offset="0" stop-color="#4E86BE"/><stop offset="0.5" stop-color="#2F5592"/><stop offset="1" stop-color="#253F78"/></linearGradient>
<linearGradient id="gl" x1="0" x2="1" y1="0" y2="0.4"><stop offset="0" stop-color="#3D93CB"/><stop offset="0.4" stop-color="#6DBBE9"/><stop offset="1" stop-color="#8FD0F2"/></linearGradient>
</defs>
<path d="M24.4,341.8 C26.5,339.2 29,337.6 31.5,337 C34.5,336.4 37.5,336.5 39.8,337.2 L39.8,338.2 C36.5,338.6 33.5,339.6 31,341 C28.8,342.2 26.5,342.6 24.4,341.8 Z" fill="url(#gl)"/>
<path d="M20.5,349.3 C20.6,347.4 21,345.6 21.6,344.3 C22.5,343.2 23.6,342.6 24.9,342.3 C27.2,341.9 29.4,341.9 31.5,341.6 C33.6,341.2 35.3,340.3 37,339.4 C38.8,338.6 40.8,338.1 42.6,338.3 C44.4,338.7 45.9,339.7 47,341 C48.2,342.3 49.1,343.8 49.7,345.4 L50.3,347.1 C49.3,346.6 48.2,346.4 47,346.5 C45.5,346.5 44,346.7 42.6,347.1 C41.2,347.6 39.9,348.4 38.7,349.3 C37.4,350.4 36.2,351.6 34.8,352.6 C33.5,353.6 32,354.4 30.4,354.8 C28.6,355.4 26.7,355.7 24.9,355.6 C23.7,355.5 22.6,355.3 21.6,354.8 C21,353.9 20.7,353 20.5,352 Z" fill="url(#gg)"/>
<path d="M35.9,350.4 C37.6,349.2 39.5,348.2 41.5,347.6 C43.7,347.2 46,347.6 48.1,348.2 L50.3,347.6 C50.7,348.7 50.9,349.8 50.8,350.9 C50.6,351.9 50.3,352.9 49.7,353.7 C48.1,354 46.4,354 44.8,353.7 C43.2,353.5 41.8,353.1 40.4,352.6 C38.8,352 37.3,351.3 35.9,350.4 Z" fill="url(#gb)"/>
<ellipse cx="45.2" cy="347.5" rx="3.1" ry="0.95" fill="#fff"/>
<path d="M21.1,357.6 C22.7,357 24.4,356.8 26,357 C28.4,357.7 30.4,359.4 32.6,360.3 C35.2,360.4 37.9,359.7 40.4,358.9 C42.7,358.3 44.9,357.7 47,357 L49.7,356.5 C49.4,357.9 48.9,359.2 48.1,360.3 C47.1,361.5 45.7,362.4 44.2,363.1 L44.8,364.7 C43.5,365.1 42.2,365.2 40.9,365.3 C39.6,365.8 38.3,366.3 37,366.4 C35.1,366.4 33.2,366 31.5,365.3 C29.5,364.7 27.6,363.8 26,362.5 C24.7,361.9 23.5,361.2 22.7,360.3 C22,359.5 21.5,358.6 21.1,357.6 Z" fill="url(#gl)"/>
<g fill="#58595B" font-weight="bold" font-family="Liberation Sans, sans-serif">
<text x="54.5" y="349.3" font-size="9.6" textLength="75.5" lengthAdjust="spacingAndGlyphs">M<tspan font-size="6.9">ETEOROLOGICAL</tspan></text>
<text x="54.5" y="356.9" font-size="9.6" textLength="38.2" lengthAdjust="spacingAndGlyphs">S<tspan font-size="6.9">ERVICE</tspan></text>
<text x="54.5" y="364.6" font-size="9.6" textLength="53" lengthAdjust="spacingAndGlyphs">S<tspan font-size="6.9">INGAPORE</tspan></text>
</g>
</g>

</svg></body></html>
